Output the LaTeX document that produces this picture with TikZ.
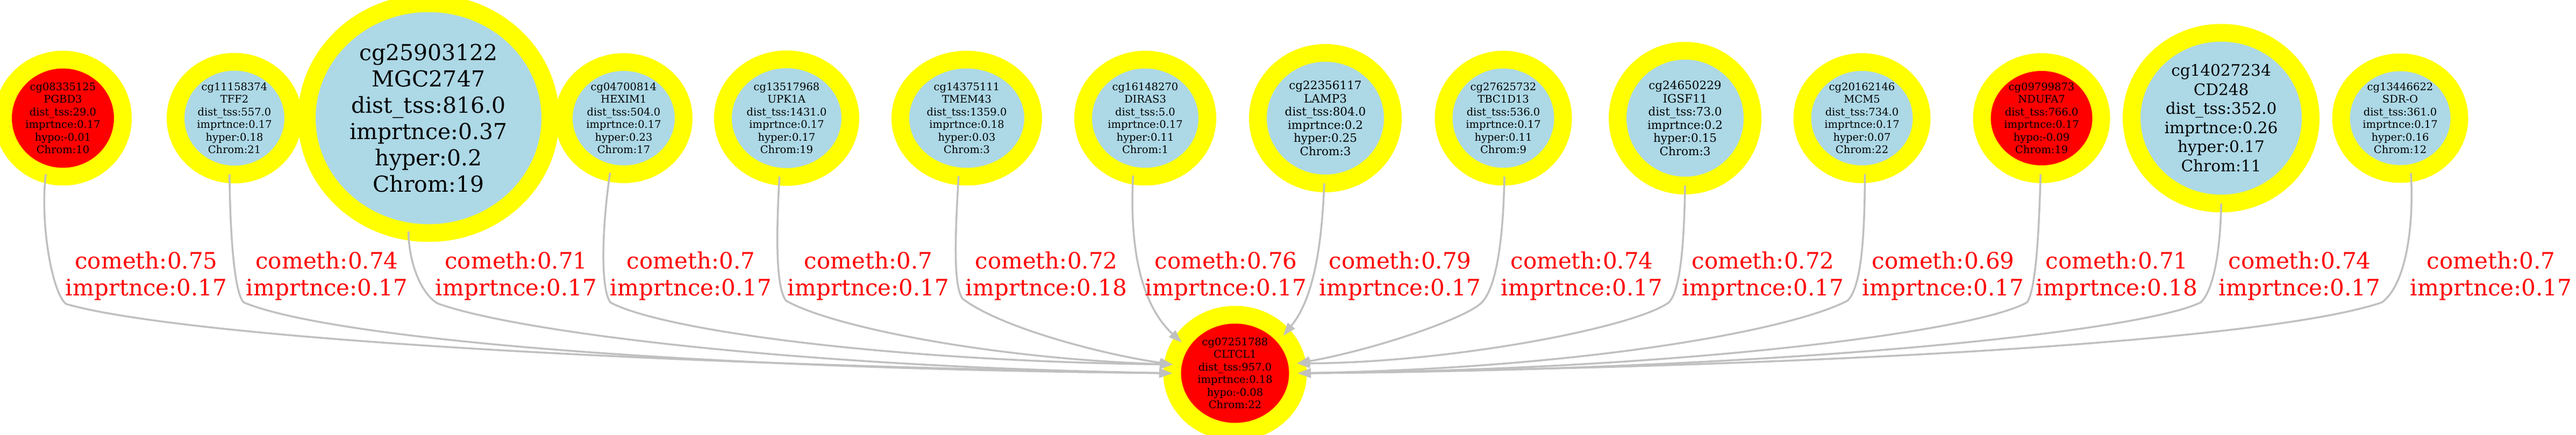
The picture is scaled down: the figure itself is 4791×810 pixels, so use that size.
\documentclass[tikz,border=0pt]{standalone}
\usepackage{fontspec}
\setmainfont{DejaVu Serif}
\usetikzlibrary{shapes.geometric,arrows.meta}
\definecolor{ringyellow}{HTML}{FFFF00}
\definecolor{nodeblue}{HTML}{ADD8E6}
\definecolor{nodered}{HTML}{FF0000}
\definecolor{edgegray}{HTML}{C0C0C0}
\definecolor{lblred}{HTML}{FF0000}
\tikzset{
  cnode/.style={ellipse, draw=ringyellow, line width=33pt, outer sep=0pt, inner sep=0pt,
    align=center, fill=nodeblue, text=black, font=\fontsize{19.5pt}{23.5pt}\selectfont},
  hot/.style={fill=nodered},
  fmid/.style={font=\fontsize{21.5pt}{24.5pt}\selectfont},
  flarge/.style={font=\fontsize{29.5pt}{35.5pt}\selectfont},
  fhuge/.style={font=\fontsize{41pt}{49pt}\selectfont},
  lbl/.style={text=lblred, font=\fontsize{42pt}{50pt}\selectfont, align=center, inner sep=0pt, anchor=north},
  link/.style={draw=edgegray, line width=3.5pt, -{Triangle[length=24pt,width=17pt]}}
}
\begin{document}
\begin{tikzpicture}[x=1pt,y=-1pt]
\useasboundingbox (0,0) rectangle (4791,810);
\fill[white] (0,0) rectangle (4791,810);
\clip (0,0) rectangle (4791,810);
% source nodes
\node[cnode,hot,minimum width=223pt,minimum height=218pt] (n1) at (117,220) {cg08335125\\PGBD3\\dist\_tss:29.0\\imprtnce:0.17\\hypo:-0.01\\Chrom:10};
\node[cnode,minimum width=219pt,minimum height=210pt] (n2) at (436,220) {cg11158374\\TFF2\\dist\_tss:557.0\\imprtnce:0.17\\hyper:0.18\\Chrom:21};
\node[cnode,fhuge,minimum width=453pt,minimum height=428pt] (n3) at (797,220) {cg25903122\\MGC2747\\dist\_tss:816.0\\imprtnce:0.37\\hyper:0.2\\Chrom:19};
\node[cnode,minimum width=223pt,minimum height=209pt] (n4) at (1160,220) {cg04700814\\HEXIM1\\dist\_tss:504.0\\imprtnce:0.17\\hyper:0.23\\Chrom:17};
\node[cnode,minimum width=237pt,minimum height=219pt] (n5) at (1463,220) {cg13517968\\UPK1A\\dist\_tss:1431.0\\imprtnce:0.17\\hyper:0.17\\Chrom:19};
\node[cnode,minimum width=247pt,minimum height=218pt] (n6) at (1798,220) {cg14375111\\TMEM43\\dist\_tss:1359.0\\imprtnce:0.18\\hyper:0.03\\Chrom:3};
\node[cnode,minimum width=231pt,minimum height=218pt] (n7) at (2130,220) {cg16148270\\DIRAS3\\dist\_tss:5.0\\imprtnce:0.17\\hyper:0.11\\Chrom:1};
\node[cnode,fmid,minimum width=251pt,minimum height=243pt] (n8) at (2465,220) {cg22356117\\LAMP3\\dist\_tss:804.0\\imprtnce:0.2\\hyper:0.25\\Chrom:3};
\node[cnode,minimum width=222pt,minimum height=218pt] (n9) at (2796,220) {cg27625732\\TBC1D13\\dist\_tss:536.0\\imprtnce:0.17\\hyper:0.11\\Chrom:9};
\node[cnode,fmid,minimum width=251pt,minimum height=251pt] (n10) at (3134,220) {cg24650229\\IGSF11\\dist\_tss:73.0\\imprtnce:0.2\\hyper:0.15\\Chrom:3};
\node[cnode,minimum width=222pt,minimum height=209pt] (n11) at (3463,220) {cg20162146\\MCM5\\dist\_tss:734.0\\imprtnce:0.17\\hyper:0.07\\Chrom:22};
\node[cnode,hot,minimum width=222pt,minimum height=209pt] (n12) at (3797,220) {cg09799873\\NDUFA7\\dist\_tss:766.0\\imprtnce:0.17\\hypo:-0.09\\Chrom:19};
\node[cnode,flarge,minimum width=333pt,minimum height=318pt] (n13) at (4131,220) {cg14027234\\CD248\\dist\_tss:352.0\\imprtnce:0.26\\hyper:0.17\\Chrom:11};
\node[cnode,minimum width=220pt,minimum height=208pt] (n14) at (4464,220) {cg13446622\\SDR-O\\dist\_tss:361.0\\imprtnce:0.17\\hyper:0.16\\Chrom:12};
% target node
\node[cnode,hot,minimum width=234pt,minimum height=218pt] (t) at (2297,695) {cg07251788\\CLTCL1\\dist\_tss:957.0\\imprtnce:0.18\\hypo:-0.08\\Chrom:22};
% edges
\draw[link] (n1.253) .. controls (74,420) and (98,548) .. (123,566) .. controls (300,618) and (1010,675) .. (t.180);
\draw[link] (n2.265) .. controls (428,440) and (436,545) .. (453,563) .. controls (600,625) and (1200,685) .. (t.180);
\draw[link] (n3.260) .. controls (760,490) and (784,548) .. (814,565) .. controls (950,615) and (1450,682) .. (t.180);
\draw[link] (n4.256) .. controls (1120,420) and (1116,535) .. (1135,563) .. controls (1230,615) and (1650,672) .. (t.172);
\draw[link] (n5.263) .. controls (1444,430) and (1442,535) .. (1462,560) .. controls (1550,610) and (1850,668) .. (t.172);
\draw[link] (n6.262) .. controls (1777,430) and (1772,530) .. (1790,556) .. controls (1860,610) and (2050,660) .. (t.172);
\draw[link] (n7.258) .. controls (2100,470) and (2125,570) .. (t.150);
\draw[link] (n8.269) .. controls (2458,470) and (2440,560) .. (t.38);
\draw[link] (n9.271) .. controls (2796,450) and (2782,540) .. (2754,565) .. controls (2722,594) and (2560,650) .. (t.9);
\draw[link] (n10.270) .. controls (3132,460) and (3125,540) .. (3104,563) .. controls (3040,610) and (2700,675) .. (t.9);
\draw[link] (n11.273) .. controls (3468,440) and (3462,535) .. (3436,560) .. controls (3330,615) and (2950,685) .. (t.0);
\draw[link] (n12.269) .. controls (3792,440) and (3786,540) .. (3770,563) .. controls (3680,615) and (3150,688) .. (t.0);
\draw[link] (n13.270) .. controls (4130,460) and (4118,540) .. (4093,563) .. controls (3990,615) and (3350,688) .. (t.0);
\draw[link] (n14.281) .. controls (4490,420) and (4475,530) .. (4430,563) .. controls (4250,625) and (3560,680) .. (t.0);
% edge labels
\node[lbl] (l1) at (272,468) {cometh:0.75\\imprtnce:0.17};
\node[lbl] (l2) at (608,468) {cometh:0.74\\imprtnce:0.17};
\node[lbl] (l3) at (960,468) {cometh:0.71\\imprtnce:0.17};
\node[lbl] (l4) at (1285,468) {cometh:0.7\\imprtnce:0.17};
\node[lbl] (l5) at (1615,468) {cometh:0.7\\imprtnce:0.17};
\node[lbl] (l6) at (1946,468) {cometh:0.72\\imprtnce:0.18};
\node[lbl] (l7) at (2280,468) {cometh:0.76\\imprtnce:0.17};
\node[lbl] (l8) at (2604,468) {cometh:0.79\\imprtnce:0.17};
\node[lbl] (l9) at (2942,468) {cometh:0.74\\imprtnce:0.17};
\node[lbl] (l10) at (3279,468) {cometh:0.72\\imprtnce:0.17};
\node[lbl] (l11) at (3614,468) {cometh:0.69\\imprtnce:0.17};
\node[lbl] (l12) at (3937,468) {cometh:0.71\\imprtnce:0.18};
\node[lbl] (l13) at (4277,468) {cometh:0.74\\imprtnce:0.17};
\node[lbl] (l14) at (4633,468) {cometh:0.7\\imprtnce:0.17};
\end{tikzpicture}
\end{document}
